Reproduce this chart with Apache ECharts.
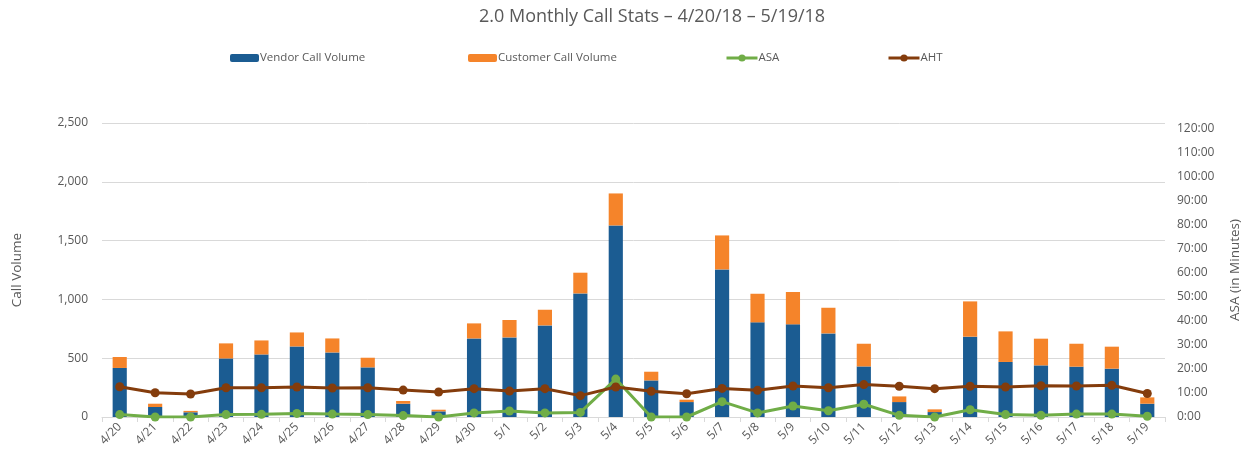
<!DOCTYPE html>
<html>
<head>
<meta charset="utf-8">
<script src="https://cdn.jsdelivr.net/npm/echarts@6/dist/echarts.min.js"></script>
<style>
  html, body { margin: 0; padding: 0; background: #fff; }
  #chart { width: 1250px; height: 460px; }
</style>
</head>
<body>
<div id="chart"></div>
<script>
// chart data
const days = ['4/20', '4/21', '4/22', '4/23', '4/24', '4/25', '4/26', '4/27', '4/28', '4/29',
  '4/30', '5/1', '5/2', '5/3', '5/4', '5/5', '5/6', '5/7', '5/8', '5/9',
  '5/10', '5/11', '5/12', '5/13', '5/14', '5/15', '5/16', '5/17', '5/18', '5/19']
const vendorCalls = [417, 85, 40, 498, 532, 600, 549, 422, 113, 48,
  668, 677, 779, 1051, 1629, 311, 127, 1255, 805, 788,
  711, 430, 127, 42, 683, 468, 439, 428, 411, 113]
const customerCalls = [93, 28, 12, 128, 119, 119, 119, 82, 23, 14,
  128, 148, 133, 176, 272, 74, 20, 289, 243, 275,
  218, 193, 48, 23, 300, 260, 227, 195, 187, 54]
// minutes
const asa = [1.0, 0, 0, 1.0, 1.1, 1.5, 1.2, 1.0, 0.6, 0,
  1.7, 2.5, 1.7, 1.9, 15.8, 0, 0, 6.4, 1.7, 4.6,
  2.6, 5.3, 0.7, 0, 3.0, 1.0, 0.7, 1.2, 1.2, 0.3]
const aht = [12.6, 10.1, 9.6, 12.2, 12.2, 12.5, 12.1, 12.2, 11.2, 10.4,
  11.8, 10.8, 11.8, 8.9, 12.5, 10.7, 9.7, 11.9, 11.1, 12.9,
  12.2, 13.5, 12.8, 11.8, 12.8, 12.5, 13.0, 12.9, 13.2, 9.8]

const txt = '#595959'
const font = 'Open Sans'
const blue = '#1B5C92'
const orange = '#F5842A'
const green = '#70AD47'
const brown = '#843C0C'

const chart = echarts.init(document.getElementById('chart'), null, { renderer: 'canvas' })

const legendBase = {
  top: 47,
  itemGap: 4,
  textStyle: { color: txt, fontFamily: font, fontSize: 11.5, padding: [0, 0, 0, -4] }
}

const option = {
  animation: false,
  title: {
    text: '2.0 Monthly Call Stats – 4/20/18 – 5/19/18',
    left: 474,
    top: 3,
    textStyle: { color: txt, fontFamily: font, fontSize: 18, fontWeight: 'normal' }
  },
  legend: [
    Object.assign({}, legendBase, { left: 225, data: ['Vendor Call Volume'], itemWidth: 29, itemHeight: 8 }),
    Object.assign({}, legendBase, { left: 463, data: ['Customer Call Volume'], itemWidth: 29, itemHeight: 8 }),
    Object.assign({}, legendBase, { left: 720, data: ['ASA'], itemWidth: 31, itemHeight: 9, lineStyle: { width: 3 } }),
    Object.assign({}, legendBase, { left: 882, data: ['AHT'], itemWidth: 31, itemHeight: 9, lineStyle: { width: 3 } })
  ],
  grid: { left: 102, right: 83, top: 123, bottom: 43, containLabel: false },
  xAxis: {
    type: 'category',
    data: days,
    axisLine: { lineStyle: { color: '#d9d9d9' } },
    axisTick: { show: true, length: 5, lineStyle: { color: '#d9d9d9' } },
    axisLabel: { color: txt, fontFamily: font, fontSize: 12, rotate: 45, interval: 0, margin: 8 }
  },
  yAxis: [
    {
      type: 'value',
      min: 0, max: 2500, interval: 500,
      name: 'Call Volume',
      nameLocation: 'middle',
      nameGap: 78,
      nameTextStyle: { color: txt, fontFamily: font, fontSize: 13.5 },
      axisLine: { show: false },
      axisTick: { show: false },
      splitLine: { lineStyle: { color: '#d9d9d9' } },
      axisLabel: {
        color: txt, fontFamily: font, fontSize: 12, margin: 14,
        formatter: v => v.toLocaleString('en-US')
      }
    },
    {
      type: 'value',
      min: 0, max: 122.5, interval: 10,
      name: 'ASA (in Minutes)',
      nameLocation: 'middle',
      nameGap: 63,
      nameRotate: 90,
      nameTextStyle: { color: txt, fontFamily: font, fontSize: 13.5 },
      axisLine: { show: false },
      axisTick: { show: false },
      splitLine: { show: false },
      axisLabel: {
        color: txt, fontFamily: font, fontSize: 12, margin: 12, showMaxLabel: false,
        formatter: v => (v % 10 === 0 ? v + ':00' : '')
      }
    }
  ],
  series: [
    {
      name: 'Vendor Call Volume',
      type: 'bar',
      stack: 'calls',
      barWidth: '40%',
      itemStyle: { color: blue },
      data: vendorCalls
    },
    {
      name: 'Customer Call Volume',
      type: 'bar',
      stack: 'calls',
      barWidth: '40%',
      itemStyle: { color: orange },
      data: customerCalls
    },
    {
      name: 'ASA',
      type: 'line',
      yAxisIndex: 1,
      symbol: 'circle',
      symbolSize: 9,
      lineStyle: { color: green, width: 3 },
      itemStyle: { color: green },
      data: asa
    },
    {
      name: 'AHT',
      type: 'line',
      yAxisIndex: 1,
      symbol: 'circle',
      symbolSize: 9,
      lineStyle: { color: brown, width: 3 },
      itemStyle: { color: brown },
      data: aht
    }
  ]
}

chart.setOption(option)
window.addEventListener('resize', chart.resize)
</script>
</body>
</html>
